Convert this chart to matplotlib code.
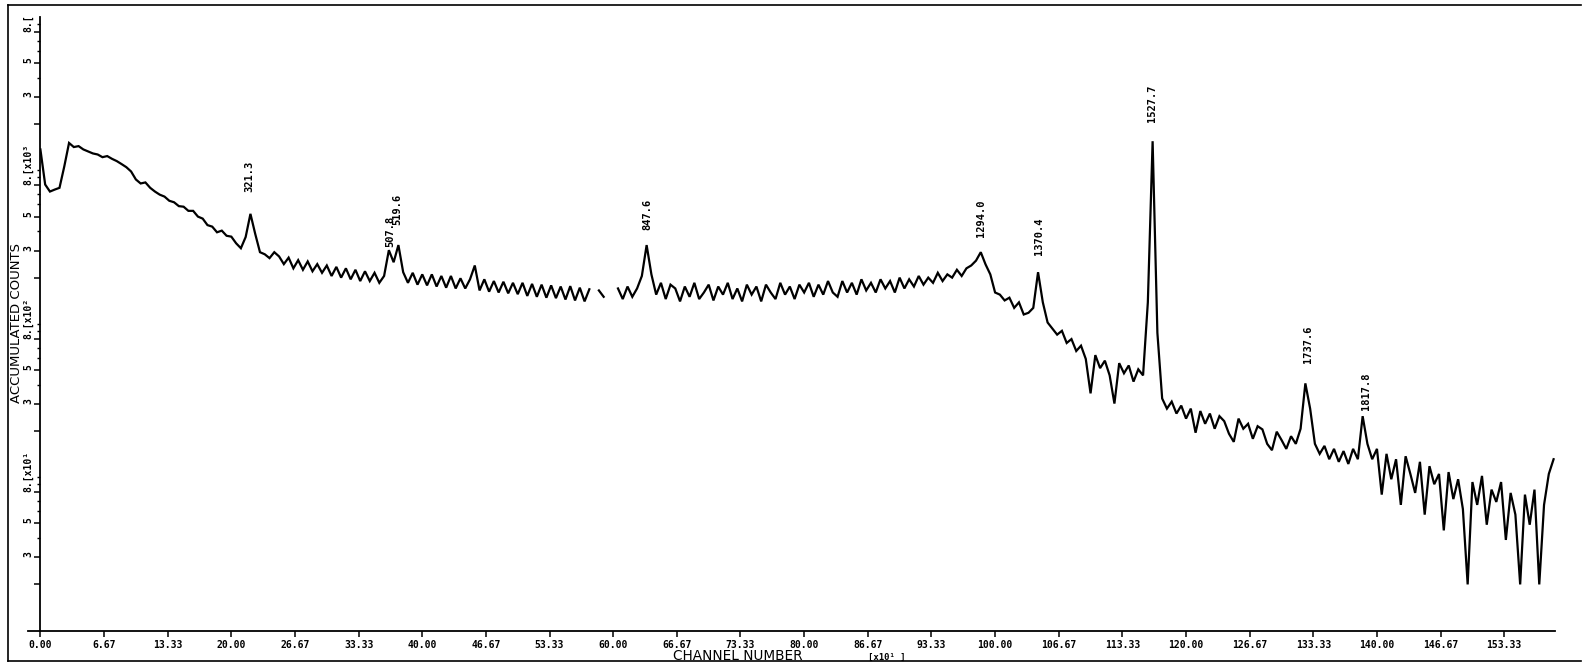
import numpy as np
import matplotlib
matplotlib.use("Agg")
import matplotlib.pyplot as plt
from matplotlib.lines import Line2D

nan = float("nan")
STEP = 0.5  # channel grid step, in units of 10 channels

# ---- spectrum (accumulated counts), by segment ----
seg_a_start = 0.0
seg_a_counts = [13700, 8090, 7280, 7500, 7700, 10600, 15100, 14200, 14400, 13700,
                13300, 12900, 12700, 12200, 12400, 11900, 11500, 11000, 10500, 9840,
                8730, 8220, 8350, 7700, 7280, 6950, 6750, 6340, 6200, 5850,
                5800, 5450, 5450, 5000, 4850, 4400, 4300, 3950, 4050, 3750,
                3700, 3350, 3110, 3680, 5210, 3860, 2930, 2840, 2680, 2930]

seg_b_start = 25.0
seg_b_counts = [2750, 2450, 2700, 2300, 2600, 2250, 2550, 2200, 2450, 2150,
                2400, 2050, 2350, 2000, 2300, 1950, 2250, 1900, 2200, 1900,
                2150, 1850, 2050, 3020, 2520, 3260, 2170, 1850, 2150, 1800,
                2100, 1780, 2100, 1750, 2050, 1720, 2050, 1700, 1980, 1700,
                1950, 2400, 1650, 1950, 1620, 1900, 1600, 1880, 1580, 1850,
                1560, 1850, 1520, 1820, 1500, 1800, 1480, 1780, 1470, 1750,
                1440, 1760, 1420, 1720, 1400, 1680]

seg_c_start = 58.0
seg_c_counts = [nan, 1650, 1500, nan, nan,
                1700, 1450, 1750, 1500, 1700, 2050, 3260, 2100, 1550, 1850,
                1450, 1800, 1700, 1400, 1750, 1500, 1850, 1450, 1600, 1800,
                1420, 1750, 1550, 1850, 1450, 1700, 1400, 1800, 1550, 1750,
                1400, 1800, 1600, 1450, 1850, 1550, 1750, 1450, 1800, 1600,
                1850, 1500, 1800, 1550, 1900, 1600, 1500, 1900, 1600, 1850,
                1550, 1950, 1650, 1850, 1600, 1950, 1700, 1900, 1600, 2000,
                1700, 1950, 1750, 2050, 1800, 2000, 1850, 2150, 1900, 2100,
                2000, 2250, 2050, 2300, 2400]

seg_d_start = 98.0
seg_d_counts = [2580, 2930, 2440, 2100, 1600, 1550, 1420, 1480, 1270, 1380,
                1150, 1180, 1270, 2170, 1380, 1020, 930, 850, 900, 750,
                795, 665, 720, 590, 352, 625, 514, 575, 461, 302,
                554, 476, 535, 420, 505, 461, 1380, 15500, 873, 326]

seg_e_start = 118.0
seg_e_counts = [280, 311, 260, 293, 241, 280, 195, 270, 223, 260,
                207, 250, 232, 192, 170, 241, 207, 223, 178, 215,
                205, 165, 150, 198, 175, 153, 185, 165, 207, 409,
                280, 165, 142, 160, 131, 153, 126, 148, 122, 153,
                131, 250, 165, 131,
                153, 77, 142, 97, 131, 66, 137, 105, 79, 126,
                57, 118, 90, 105, 45, 108, 72, 97, 62, 20,
                93, 66, 102, 49, 83, 69, 93, 39, 79, 57,
                20, 77, 49, 83, 20, 66, 105, 131]

# ---- peak annotations ----
peak_labels = ["321.3", "507.8", "519.6", "847.6", "1294.0", "1370.4",
               "1527.7", "1737.6", "1817.8"]
peak_x = [21.9, 36.6, 37.4, 63.55, 98.55, 104.6, 116.4, 132.8, 138.9]
peak_label_base = [7280, 3160, 4420, 4090, 3680, 2800, 20700, 554, 276]

# ---- axis ticks ----
xtick_vals = [0.0, 6.67, 13.33, 20.0, 26.67, 33.33, 40.0, 46.67, 53.33, 60.0,
              66.67, 73.33, 80.0, 86.67, 93.33, 100.0, 106.67, 113.33, 120.0,
              126.67, 133.33, 140.0, 146.67, 153.33]
xtick_labels = ["0.00", "6.67", "13.33", "20.00", "26.67", "33.33", "40.00",
                "46.67", "53.33", "60.00", "66.67", "73.33", "80.00", "86.67",
                "93.33", "100.00", "106.67", "113.33", "120.00", "126.67",
                "133.33", "140.00", "146.67", "153.33"]
ytick_vals = [20, 30, 50, 80, 200, 300, 500, 800, 2000, 3000, 5000, 8000,
              20000, 30000, 50000, 80000]
ytick_labels = ["", "3", "5", "8.[x10¹", "", "3", "5", "8.[x10²",
                "", "3", "5", "8.[x10³", "", "3", "5", "8.["]
yminor_vals = [40, 60, 70, 90, 100, 400, 600, 700, 900, 1000,
               4000, 6000, 7000, 9000, 10000, 40000, 60000, 70000, 90000]

segments = [(seg_a_start, seg_a_counts), (seg_b_start, seg_b_counts),
            (seg_c_start, seg_c_counts), (seg_d_start, seg_d_counts),
            (seg_e_start, seg_e_counts)]
x = np.concatenate([s + STEP * np.arange(len(c)) for s, c in segments])
y = np.concatenate([np.asarray(c, dtype=float) for s, c in segments])

fig = plt.figure(figsize=(15.83, 6.66), dpi=100)
ax = fig.add_axes([0.02552, 0.05315, 0.9565, 0.9213])
ax.plot(x, y, color="black", lw=1.6, solid_joinstyle="miter")
ax.set_yscale("log")
ax.set_xlim(0, 158.6)
ax.set_ylim(10, 1e5)

for sp in ("top", "right"):
    ax.spines[sp].set_visible(False)
for sp in ("left", "bottom"):
    ax.spines[sp].set_linewidth(1.3)

tickfont = dict(family="DejaVu Sans Mono", weight="bold", size=7)
ax.set_xticks(xtick_vals, xtick_labels, **tickfont)
ax.set_yticks(ytick_vals, ytick_labels, **tickfont)
ax.set_yticks(yminor_vals, minor=True)
ax.yaxis.set_minor_formatter(plt.NullFormatter())
ax.tick_params(axis="x", direction="out", length=4, width=1.1, pad=3)
ax.tick_params(axis="y", which="major", direction="out", length=4, width=1.1, pad=1)
ax.tick_params(axis="y", which="minor", direction="out", length=2, width=1.0)
for t in ax.get_yticklabels():
    t.set_rotation(90)
    t.set_va("bottom")

# small stub of the x axis to the left of the y axis
ax.plot([-1.3, 0], [10, 10], color="black", lw=1.3, clip_on=False)

for lab, px, py in zip(peak_labels, peak_x, peak_label_base):
    ax.text(px, py, lab, rotation=90, ha="center", va="bottom",
            family="DejaVu Sans Mono", weight="bold", fontsize=7.5)

fig.text(0.0105, 0.515, "ACCUMULATED COUNTS", rotation=90, ha="center",
         va="center", fontsize=9.5, family="DejaVu Sans")
fig.text(0.466, 0.0145, "CHANNEL NUMBER", ha="center", va="center",
         fontsize=9.8, family="DejaVu Sans")
fig.text(0.560, 0.0135, "[x10¹ ]", ha="center", va="center",
         fontsize=6.5, family="DejaVu Sans Mono", weight="bold")

# scan frame
for (xa, ya) in [((0.005, 0.999), (0.993, 0.993)),
                 ((0.005, 0.005), (0.007, 0.993)),
                 ((0.005, 0.999), (0.007, 0.007))]:
    fig.add_artist(Line2D(xa, ya, transform=fig.transFigure, color="black", lw=1.2))

fig.savefig("out.png", dpi=100)
